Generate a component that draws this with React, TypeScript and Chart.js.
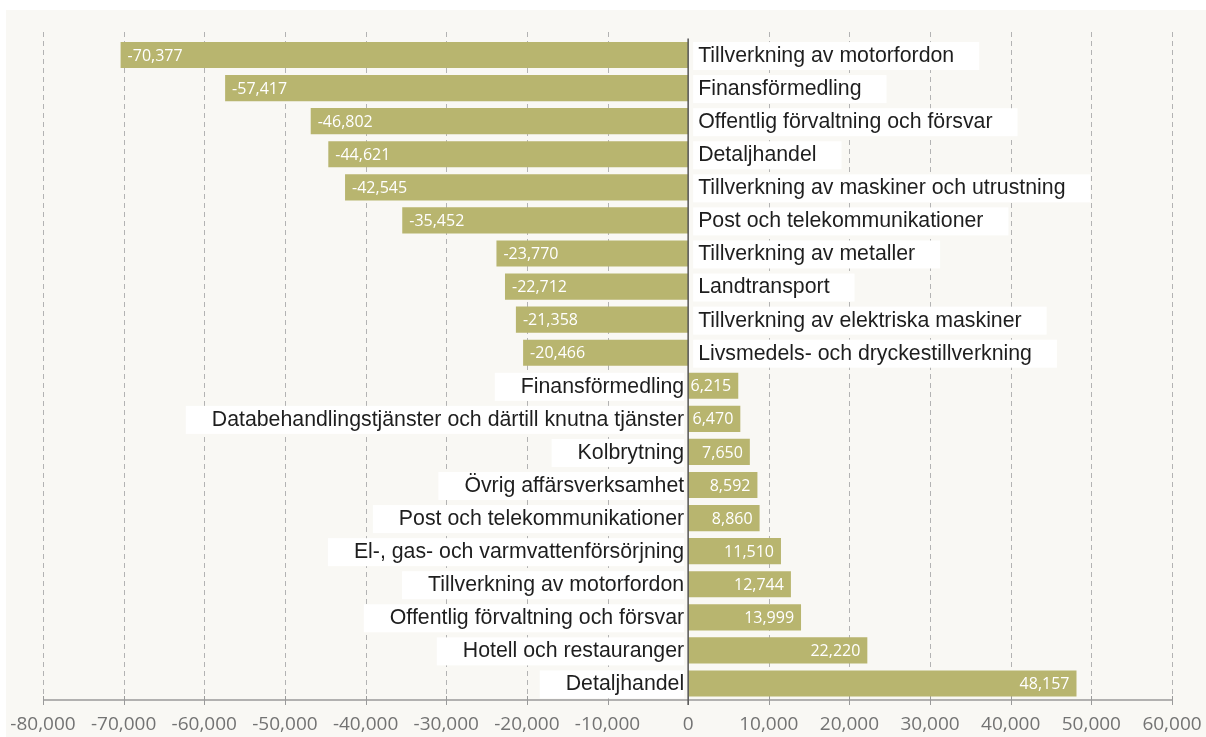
import React, { useEffect, useRef } from "react";
import { Chart, registerables } from "chart.js";

Chart.register(...registerables);

const categories: string[] = [
  "Tillverkning av motorfordon",
  "Finansförmedling",
  "Offentlig förvaltning och försvar",
  "Detaljhandel",
  "Tillverkning av maskiner och utrustning",
  "Post och telekommunikationer",
  "Tillverkning av metaller",
  "Landtransport",
  "Tillverkning av elektriska maskiner",
  "Livsmedels- och dryckestillverkning",
  "Finansförmedling",
  "Databehandlingstjänster och därtill knutna tjänster",
  "Kolbrytning",
  "Övrig affärsverksamhet",
  "Post och telekommunikationer",
  "El-, gas- och varmvattenförsörjning",
  "Tillverkning av motorfordon",
  "Offentlig förvaltning och försvar",
  "Hotell och restauranger",
  "Detaljhandel",
];

const values: number[] = [
  -70377, -57417, -46802, -44621, -42545, -35452, -23770, -22712, -21358, -20466,
  6215, 6470, 7650, 8592, 8860, 11510, 12744, 13999, 22220, 48157,
];

const xMin = -80000;
const xMax = 60000;
const xStep = 10000;

const fmt = (v: number) => {
  const s = Math.abs(v).toString().replace(/\B(?=(\d{3})+(?!\d))/g, ",");
  return (v < 0 ? "-" : "") + s;
};

const decorPlugin = {
  id: "decor",
  beforeDraw(chart: any) {
    const { ctx, width, height } = chart;
    ctx.save();
    ctx.fillStyle = "#ffffff";
    ctx.fillRect(0, 0, width, height);
    ctx.fillStyle = "#f9f8f4";
    ctx.fillRect(6, 10, width - 6, height - 10);
    ctx.restore();
  },
  beforeDatasetsDraw(chart: any) {
    const { ctx, chartArea } = chart;
    const x = chart.scales.x;
    ctx.save();
    ctx.strokeStyle = "#b3b3b3";
    ctx.lineWidth = 1;
    ctx.setLineDash([5, 4]);
    for (let v = xMin; v <= xMax; v += xStep) {
      if (v === 0) continue;
      const px = Math.round(x.getPixelForValue(v)) + 0.5;
      ctx.beginPath();
      ctx.moveTo(px, 32);
      ctx.lineTo(px, chartArea.bottom);
      ctx.stroke();
    }
    ctx.setLineDash([]);
    ctx.strokeStyle = "#9a9a9a";
    ctx.lineWidth = 1.5;
    ctx.beginPath();
    ctx.moveTo(x.getPixelForValue(xMin), chartArea.bottom);
    ctx.lineTo(x.getPixelForValue(xMax), chartArea.bottom);
    ctx.stroke();
    ctx.lineWidth = 1;
    for (let v = xMin; v <= xMax; v += xStep) {
      const px = Math.round(x.getPixelForValue(v)) + 0.5;
      ctx.beginPath();
      ctx.moveTo(px, chartArea.bottom - 4);
      ctx.lineTo(px, chartArea.bottom + 5);
      ctx.stroke();
    }
    ctx.restore();
  },
  afterDatasetsDraw(chart: any) {
    const { ctx, chartArea } = chart;
    const x = chart.scales.x;
    const meta = chart.getDatasetMeta(0);
    const zero = x.getPixelForValue(0);
    ctx.save();
    ctx.textBaseline = "middle";
    meta.data.forEach((bar: any, i: number) => {
      const v = values[i];
      const y = bar.y;
      const label = categories[i];
      ctx.font = "21.3px 'Liberation Sans', Arial, sans-serif";
      const w = ctx.measureText(label).width;
      const boxH = 28;
      if (v < 0) {
        ctx.fillStyle = "#ffffff";
        ctx.fillRect(zero + 5, y - boxH / 2 + 1, w + 30, boxH);
        ctx.fillStyle = "#1e1e1e";
        ctx.textAlign = "left";
        ctx.fillText(label, zero + 10, y + 1);
      } else {
        ctx.fillStyle = "#ffffff";
        ctx.fillRect(zero - 4 - w - 26, y - boxH / 2 + 1, w + 26, boxH);
        ctx.fillStyle = "#1e1e1e";
        ctx.textAlign = "right";
        ctx.fillText(label, zero - 4, y + 1);
      }
      ctx.font = "16px 'Open Sans', sans-serif";
      ctx.fillStyle = "#ffffff";
      if (v < 0) {
        ctx.textAlign = "left";
        ctx.fillText(fmt(v), bar.x + 7, y + 1);
      } else {
        ctx.textAlign = "right";
        ctx.fillText(fmt(v), bar.x - 7, y + 1);
      }
    });
    ctx.strokeStyle = "#555555";
    ctx.lineWidth = 1.5;
    ctx.beginPath();
    ctx.moveTo(zero, chartArea.top);
    ctx.lineTo(zero, chartArea.bottom + 5);
    ctx.stroke();
    ctx.restore();
  },
};

export default function App() {
  const ref = useRef<HTMLCanvasElement | null>(null);
  useEffect(() => {
    document.body.style.margin = "0";
    if (!ref.current) return;
    const chart = new Chart(ref.current, {
      type: "bar",
      data: {
        labels: categories,
        datasets: [
          {
            data: values,
            backgroundColor: "#b8b56f",
            borderWidth: 0,
            categoryPercentage: 1,
            barPercentage: 0.79,
          },
        ],
      },
      options: {
        indexAxis: "y",
        animation: false,
        responsive: false,
        maintainAspectRatio: false,
        events: [],
        layout: { padding: { left: 43, right: 34, top: 38.5, bottom: 0 } },
        plugins: {
          legend: { display: false },
          tooltip: { enabled: false },
        },
        scales: {
          x: {
            type: "linear",
            min: xMin,
            max: xMax,
            grid: { display: false, drawTicks: false, tickLength: 0 },
            border: { display: false },
            afterFit: (scale: any) => {
              scale.paddingLeft = 0;
              scale.paddingRight = 0;
              scale.height = 37;
            },
            ticks: {
              stepSize: xStep,
              padding: 13.5,
              color: "#737373",
              font: { family: "'Open Sans', sans-serif", size: 19 },
              callback: (v: any) => fmt(Number(v)),
            },
          },
          y: {
            display: false,
          },
        },
      },
      plugins: [decorPlugin],
    });
    return () => chart.destroy();
  }, []);
  return <canvas ref={ref} width={1206} height={737} style={{ display: "block" }} />;
}
